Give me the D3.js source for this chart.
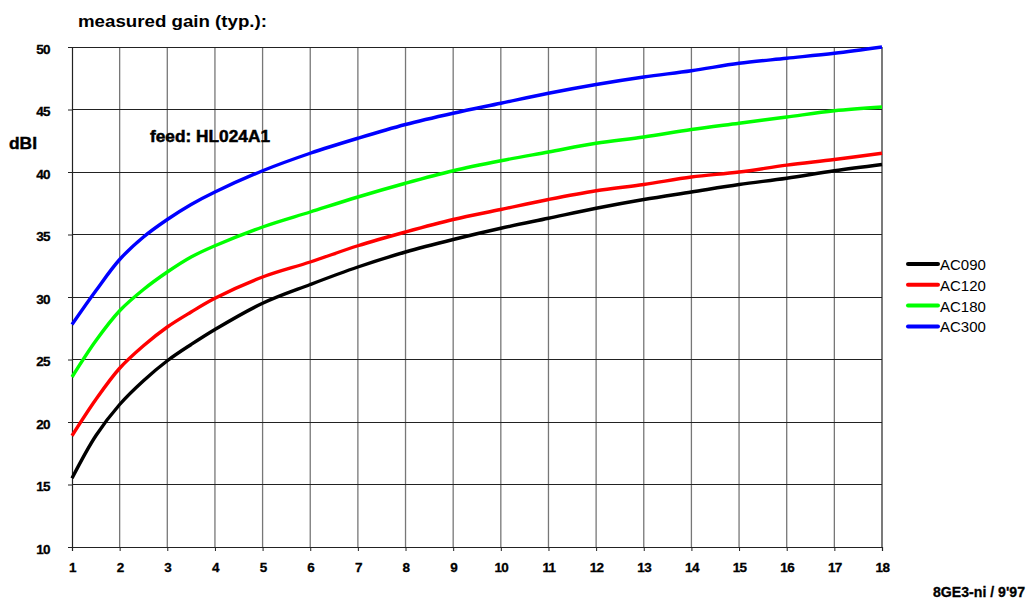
<!DOCTYPE html>
<html><head><meta charset="utf-8">
<script src="https://cdn.jsdelivr.net/npm/d3@7"></script>
<style>body{margin:0;background:#fff}svg{display:block}text{font-family:"Liberation Sans",Arial,sans-serif}</style>
</head><body>
<svg id="c" width="1032" height="608"></svg>
<script>
const xValues = [1, 1.5, 2, 2.5, 3, 3.5, 4, 5, 6, 7, 8, 9, 10, 11, 12, 13, 14, 15, 16, 17, 18];
const ac090 = [15.5, 18.9, 21.4, 23.3, 24.9, 26.2, 27.4, 29.5, 31.0, 32.4, 33.6, 34.6, 35.5, 36.3, 37.1, 37.8, 38.4, 39.0, 39.5, 40.1, 40.6];
const ac120 = [18.9, 21.8, 24.3, 26.1, 27.6, 28.8, 29.9, 31.6, 32.8, 34.1, 35.2, 36.2, 37.0, 37.8, 38.5, 39.0, 39.6, 40.0, 40.55, 41.0, 41.5];
const ac180 = [23.6, 26.5, 28.9, 30.6, 32.0, 33.2, 34.1, 35.6, 36.8, 38.0, 39.1, 40.1, 40.9, 41.6, 42.3, 42.8, 43.4, 43.9, 44.4, 44.9, 45.2];
const ac300 = [27.8, 30.5, 33.0, 34.8, 36.2, 37.4, 38.4, 40.1, 41.5, 42.7, 43.8, 44.7, 45.5, 46.3, 47.0, 47.6, 48.1, 48.7, 49.1, 49.5, 50.0];
const seriesNames = ["AC090", "AC120", "AC180", "AC300"];
const seriesColors = ["#000000", "#ff0000", "#00ff00", "#0000ff"];
const seriesData = [ac090, ac120, ac180, ac300];
const xTicks = d3.range(1, 19);
const yTicks = [10, 15, 20, 25, 30, 35, 40, 45, 50];

const svg = d3.select("#c");
const x = d3.scaleLinear().domain([1, 18]).range([72, 882]);
const y = d3.scaleLinear().domain([10, 50]).range([547, 47]);

// grid
svg.append("g").selectAll("line").data(xTicks.slice(1)).join("line")
  .attr("x1", d => x(d)).attr("x2", d => x(d)).attr("y1", y(50)).attr("y2", y(10))
  .attr("stroke", d => d === 18 ? "#333" : "#777").attr("stroke-width", 1.3);
svg.append("g").selectAll("line").data(yTicks.slice(1)).join("line")
  .attr("x1", x(1)).attr("x2", x(18)).attr("y1", d => y(d)).attr("y2", d => y(d))
  .attr("stroke", "#222").attr("stroke-width", 1).attr("shape-rendering", "crispEdges");

// axes
const yAxis = svg.append("g").attr("transform", `translate(${x(1)},0)`)
  .call(d3.axisLeft(y).tickValues(yTicks).tickSize(4).tickPadding(18));
const xAxis = svg.append("g").attr("transform", `translate(0,${y(10)})`)
  .call(d3.axisBottom(x).tickValues(xTicks).tickSize(4).tickPadding(11));
[yAxis, xAxis].forEach(a => {
  a.select(".domain").attr("stroke", "#222").attr("stroke-width", 1.2);
  a.selectAll(".tick line").attr("stroke", "#222");
  a.selectAll(".tick text").attr("font-family", "'Liberation Sans',Arial,sans-serif")
    .attr("font-size", 13.5).attr("font-weight", "bold").attr("fill", "#000")
    .attr("stroke", "#000").attr("stroke-width", 0.3).attr("letter-spacing", -0.6);
});
yAxis.selectAll(".tick text").attr("text-anchor", "end").attr("x", -22).attr("dy", "0.45em");

// series
const line = d3.line().x((d, i) => x(xValues[i])).y(d => y(d)).curve(d3.curveCatmullRom.alpha(0.5));
seriesData.forEach((s, k) => {
  svg.append("path").datum(s).attr("d", line).attr("fill", "none")
    .attr("stroke", seriesColors[k]).attr("stroke-width", 3.4).attr("stroke-linejoin", "round");
});

// texts
svg.append("text").attr("x", 78).attr("y", 27).attr("font-size", 17).attr("font-weight", "bold")
  .attr("textLength", 189).attr("lengthAdjust", "spacingAndGlyphs").text("measured gain (typ.):");
svg.append("text").attr("x", 9).attr("y", 149).attr("font-size", 16).attr("font-weight", "bold")
  .attr("stroke", "#000").attr("stroke-width", 0.4)
  .attr("textLength", 28).attr("lengthAdjust", "spacingAndGlyphs").text("dBI");
svg.append("text").attr("x", 150).attr("y", 142).attr("font-size", 16.5).attr("font-weight", "bold")
  .attr("stroke", "#000").attr("stroke-width", 0.5)
  .attr("textLength", 120).attr("lengthAdjust", "spacingAndGlyphs").text("feed: HL024A1");
svg.append("text").attr("x", 1025).attr("y", 597).attr("font-size", 14).attr("font-weight", "bold")
  .attr("stroke", "#000").attr("stroke-width", 0.3)
  .attr("text-anchor", "end").attr("textLength", 92).attr("lengthAdjust", "spacingAndGlyphs").text("8GE3-ni / 9'97");

// legend
const lg = svg.append("g");
seriesNames.forEach((n, k) => {
  const yy = 264 + k * 20.8;
  lg.append("line").attr("x1", 908).attr("x2", 938).attr("y1", yy).attr("y2", yy)
    .attr("stroke", seriesColors[k]).attr("stroke-width", 4).attr("stroke-linecap", "round");
  lg.append("text").attr("x", 940).attr("y", yy + 6).attr("font-size", 15).text(n);
});
</script>
</body></html>
